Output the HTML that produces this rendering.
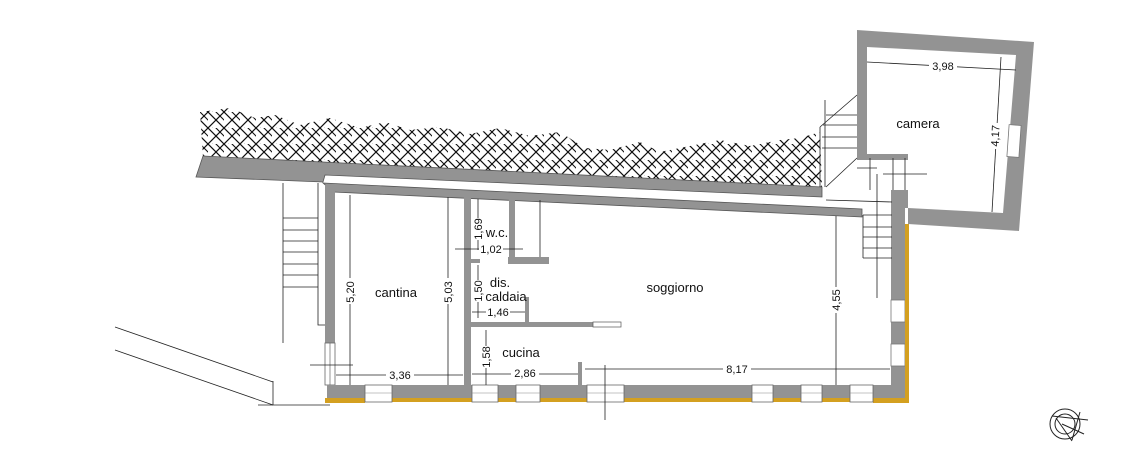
<!DOCTYPE html>
<html><head><meta charset="utf-8"><style>
html,body{margin:0;padding:0;background:#fff;}
svg{display:block;}
text{font-family:"Liberation Sans",sans-serif;fill:#111;}
</style></head><body>
<svg width="1125" height="464" viewBox="0 0 1125 464" xmlns="http://www.w3.org/2000/svg">
<defs>
<pattern id="h" width="16" height="16" patternUnits="userSpaceOnUse">
<path d="M0,0 L16,16 M-4,12 L4,20 M4,-4 L20,12 M16,0 L0,16 M-4,4 L4,-4 M12,20 L20,12 M4,16 L12,24 M12,-4 L20,4" stroke="#111" stroke-width="1.1"/>
<path d="M-8,0 L8,16 M8,0 L-8,16" stroke="#111" stroke-width="1.1" transform="translate(8,0)"/>
</pattern>
</defs>
<!-- hatch -->
<polygon fill="url(#h)" points="200,112 230,108 255,118 275,115 300,125 330,118 360,128 385,122 410,130 440,127 470,134 500,128 530,136 560,132 585,148 610,150 640,142 660,152 690,146 720,140 750,146 780,140 800,138 820,132 822,188 203,157"/>
<!-- roof band -->
<polygon fill="#939393" stroke="#555" stroke-width="0.8" points="203,156 822,187 822,197 325,175 323,182 196,177"/>
<!-- building top wall -->
<polygon fill="#939393" stroke="#555" stroke-width="0.8" points="323,183 862,209 862,217 333,192"/>
<!-- left wall -->
<rect x="325" y="185" width="10" height="158" fill="#939393"/>
<rect x="325" y="343" width="10" height="42" fill="#fff" stroke="#666" stroke-width="0.8"/>
<line x1="330" y1="343" x2="330" y2="385" stroke="#666" stroke-width="0.7"/>
<!-- right wall -->
<rect x="891" y="190" width="14" height="110" fill="#939393"/>
<rect x="891" y="322" width="14" height="22" fill="#939393"/>
<rect x="891" y="366" width="14" height="21" fill="#939393"/>
<rect x="891" y="300" width="14" height="22" fill="#fff" stroke="#777" stroke-width="0.8"/>
<rect x="891" y="344" width="14" height="22" fill="#fff" stroke="#777" stroke-width="0.8"/>
<rect x="905" y="224" width="4" height="179" fill="#d4a020"/>
<!-- bottom wall -->
<g fill="#939393">
<rect x="327" y="385" width="38" height="13"/>
<rect x="392" y="385" width="80" height="13"/>
<rect x="498" y="385" width="18" height="13"/>
<rect x="540" y="385" width="47" height="13"/>
<rect x="624" y="385" width="128" height="13"/>
<rect x="773" y="385" width="28" height="13"/>
<rect x="822" y="385" width="28" height="13"/>
<rect x="873" y="385" width="32" height="13"/>
</g>
<g fill="#d4a020">
<rect x="325" y="398" width="40" height="5"/>
<rect x="392" y="398" width="80" height="4"/>
<rect x="498" y="398" width="18" height="4"/>
<rect x="540" y="398" width="47" height="4"/>
<rect x="624" y="398" width="128" height="4"/>
<rect x="773" y="398" width="28" height="4"/>
<rect x="822" y="398" width="28" height="4"/>
<rect x="873" y="398" width="36" height="5"/>
</g>
<g fill="#fff" stroke="#666" stroke-width="0.8">
<rect x="365" y="385" width="27" height="17"/>
<rect x="472" y="385" width="26" height="17"/>
<rect x="516" y="385" width="24" height="17"/>
<rect x="587" y="385" width="37" height="17"/>
<rect x="752" y="385" width="21" height="17"/>
<rect x="801" y="385" width="21" height="17"/>
<rect x="850" y="385" width="23" height="17"/>
</g>
<g stroke="#888" stroke-width="0.6">
<line x1="365" y1="393" x2="392" y2="393"/><line x1="472" y1="393" x2="498" y2="393"/>
<line x1="516" y1="393" x2="540" y2="393"/><line x1="587" y1="393" x2="624" y2="393"/>
<line x1="752" y1="393" x2="773" y2="393"/><line x1="801" y1="393" x2="822" y2="393"/>
<line x1="850" y1="393" x2="873" y2="393"/>
</g>
<!-- camera -->
<path fill="#939393" fill-rule="evenodd" d="M857,30 L1034,42 L1019,231 L908,224 L908,208 L892,208 L892,190 L908,190 L908,160 L857,160 Z M867,47 L867,157 L908,157 L908,208 L1003,213 L1016,55 Z"/>
<rect x="867" y="154" width="41" height="5" fill="#939393"/>
<rect x="1008" y="125" width="12" height="32" fill="#fff" stroke="#777" stroke-width="0.8" transform="rotate(4 1014 141)"/>
<!-- interior walls -->
<g fill="#939393">
<rect x="464" y="196" width="7" height="189"/>
<rect x="509" y="199" width="6" height="62"/>
<rect x="508" y="257" width="41" height="7"/>
<rect x="471" y="259" width="9" height="4"/>
<rect x="471" y="322" width="122" height="5"/>
<rect x="525" y="297" width="4" height="25"/>
<rect x="578" y="362" width="4" height="23"/>
</g>
<rect x="593" y="322" width="28" height="5" fill="#fff" stroke="#555" stroke-width="0.7"/>
<g stroke="#222" stroke-width="0.8" fill="none">
<line x1="540" y1="200" x2="540" y2="257"/>
<line x1="283" y1="183" x2="283" y2="343"/>
<polyline points="318,183 318,325 325,325"/>
<line x1="283" y1="218" x2="318" y2="218"/><line x1="283" y1="230" x2="318" y2="230"/>
<line x1="283" y1="241" x2="318" y2="241"/><line x1="283" y1="252" x2="318" y2="252"/>
<line x1="283" y1="264" x2="318" y2="264"/><line x1="283" y1="275" x2="318" y2="275"/>
<line x1="283" y1="287" x2="318" y2="287"/>
<line x1="115" y1="327" x2="273" y2="382"/>
<line x1="115" y1="350" x2="273" y2="405"/>
<line x1="273" y1="381" x2="273" y2="405"/>
<line x1="258" y1="405" x2="330" y2="405"/>
<line x1="310" y1="365" x2="353" y2="365"/>
<line x1="605" y1="365" x2="605" y2="420"/>
<line x1="820" y1="127" x2="820" y2="187"/>
<line x1="820" y1="127" x2="857" y2="95"/>
<line x1="826" y1="115" x2="857" y2="115"/><line x1="823" y1="125" x2="857" y2="125"/>
<line x1="822" y1="137" x2="857" y2="137"/><line x1="822" y1="148" x2="857" y2="148"/>
<line x1="826" y1="187" x2="857" y2="158"/>
<line x1="825" y1="100" x2="825" y2="187"/>
<line x1="870" y1="158" x2="870" y2="190"/>
<line x1="877" y1="174" x2="877" y2="298"/>
<line x1="893" y1="158" x2="893" y2="190"/>
<line x1="905" y1="158" x2="905" y2="190"/>
<line x1="883" y1="174" x2="927" y2="174"/>
<line x1="857" y1="168" x2="877" y2="168"/>
<line x1="826" y1="200" x2="892" y2="202"/>
<line x1="863" y1="215" x2="863" y2="258"/>
<line x1="863" y1="215" x2="892" y2="215"/><line x1="863" y1="227" x2="892" y2="227"/>
<line x1="863" y1="237" x2="892" y2="237"/><line x1="863" y1="248" x2="892" y2="248"/>
<line x1="863" y1="258" x2="892" y2="258"/>
</g>
<g stroke="#222" stroke-width="0.8">
<line x1="350" y1="195" x2="350" y2="385"/>
<line x1="448" y1="197" x2="448" y2="385"/>
<line x1="336" y1="375" x2="463" y2="375"/>
<line x1="478" y1="199" x2="478" y2="250"/>
<line x1="455" y1="249" x2="523" y2="249"/>
<line x1="478" y1="265" x2="478" y2="318"/>
<line x1="472" y1="312" x2="525" y2="312"/>
<line x1="486" y1="330" x2="486" y2="385"/>
<line x1="472" y1="374" x2="578" y2="374"/>
<line x1="585" y1="369" x2="890" y2="369"/>
<line x1="836" y1="216" x2="836" y2="385"/>
<line x1="867" y1="62" x2="1016" y2="70"/>
<line x1="1001" y1="57" x2="992" y2="212"/>
</g>
<g font-size="11" text-anchor="middle">
<rect x="342" y="278" width="16" height="26" fill="#fff"/>
<text transform="translate(354,292) rotate(-90)">5,20</text>
<rect x="440" y="278" width="16" height="26" fill="#fff"/>
<text transform="translate(452,292) rotate(-90)">5,03</text>
<rect x="386" y="368" width="28" height="12" fill="#fff"/>
<text x="400" y="379">3,36</text>
<rect x="472" y="218" width="12" height="22" fill="#fff"/>
<text transform="translate(482,229) rotate(-90)">1,69</text>
<rect x="479" y="243" width="24" height="12" fill="#fff"/>
<text x="491" y="253">1,02</text>
<rect x="472" y="280" width="12" height="22" fill="#fff"/>
<text transform="translate(482,291) rotate(-90)">1,50</text>
<rect x="486" y="306" width="24" height="12" fill="#fff"/>
<text x="498" y="316">1,46</text>
<rect x="480" y="346" width="12" height="22" fill="#fff"/>
<text transform="translate(490,357) rotate(-90)">1,58</text>
<rect x="511" y="368" width="28" height="12" fill="#fff"/>
<text x="525" y="377">2,86</text>
<rect x="723" y="363" width="28" height="12" fill="#fff"/>
<text x="737" y="373">8,17</text>
<rect x="830" y="287" width="12" height="26" fill="#fff"/>
<text transform="translate(840,300) rotate(-90)">4,55</text>
<rect x="929" y="60" width="28" height="12" fill="#fff"/>
<text x="943" y="70">3,98</text>
<rect x="989" y="123" width="12" height="26" fill="#fff"/>
<text transform="translate(999,136) rotate(-87)">4,17</text>
</g>
<g font-size="13" text-anchor="middle">
<text x="396" y="297">cantina</text>
<text x="675" y="292">soggiorno</text>
<text x="500" y="287">dis.</text>
<text x="506" y="301">caldaia</text>
<text x="497" y="237">w.c.</text>
<text x="521" y="357">cucina</text>
<text x="918" y="128">camera</text>
</g>
<g stroke="#222" stroke-width="1" fill="none">
<circle cx="1065" cy="424" r="15"/>
<circle cx="1065" cy="424" r="10"/>
<line x1="1052" y1="416" x2="1088" y2="420"/>
<line x1="1056" y1="418" x2="1072" y2="441"/>
<line x1="1080" y1="412" x2="1072" y2="440"/>
<line x1="1062" y1="424" x2="1084" y2="434"/>
</g>
</svg>
</body></html>
